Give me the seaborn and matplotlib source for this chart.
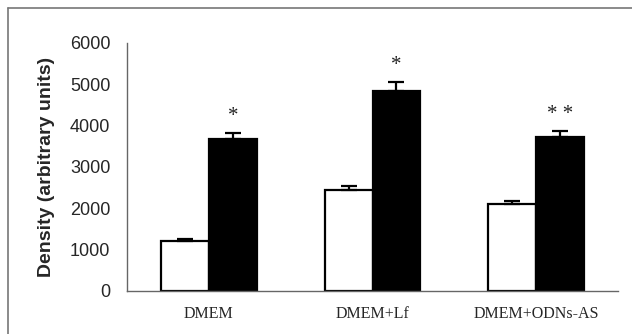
import numpy as np
import pandas as pd
import seaborn as sns
import matplotlib.pyplot as plt
from matplotlib.lines import Line2D

conditions = ["DMEM", "DMEM+Lf", "DMEM+ODNs-AS"]
control = [1210, 2440, 2100]
control_err = [50, 100, 60]
treated = [3670, 4840, 3730]
treated_err = [140, 200, 145]
marks = ["*", "*", "* *"]
yticks = [0, 1000, 2000, 3000, 4000, 5000, 6000]

df = pd.DataFrame({
    "condition": conditions * 2,
    "group": ["control"] * 3 + ["treated"] * 3,
    "density": control + treated,
})

sns.set_style("white")
plt.rcParams['font.family'] = ['Liberation Sans', 'DejaVu Sans']

fig = plt.figure(figsize=(6.32, 3.34), dpi=100)
ax = fig.add_axes([127 / 632, 1 - 290.7 / 334, (618 - 127) / 632, (290.7 - 42.7) / 334])

sns.barplot(data=df, x="condition", y="density", hue="group",
            palette={"control": "white", "treated": "black"},
            edgecolor="black", linewidth=1.6, width=0.585,
            errorbar=None, legend=False, ax=ax)

# seaborn draws hue bars group by group: first control, then treated
bars = [p for p in ax.patches if p.get_height() > 0]
ctrl_bars, trt_bars = bars[:3], bars[3:]
for grp, errs in ((ctrl_bars, control_err), (trt_bars, treated_err)):
    xs = [b.get_x() + b.get_width() / 2 for b in grp]
    hs = [b.get_height() for b in grp]
    ax.errorbar(xs, hs, yerr=[np.zeros(3), errs], fmt="none", ecolor="black",
                elinewidth=1.6, capsize=6, capthick=1.6, zorder=1)

for b, e, m in zip(trt_bars, treated_err, marks):
    ax.annotate(m, (b.get_x() + b.get_width() / 2, b.get_height() + e),
                xytext=(0, 5), textcoords="offset points", ha="center", va="bottom",
                fontsize=15, family="Liberation Serif", color="#222222")

ax.set_xlim(-0.5, 2.5)
ax.set_ylim(0, 6000)
ax.set_yticks(yticks)
ax.set_yticklabels([str(t) for t in yticks], fontsize=13)
ax.set_xticks([-0.5, 0.5, 1.5, 2.5])
ax.set_xticklabels([])
ax.set_xticks([0, 1, 2], minor=True)
ax.set_xticklabels(conditions, minor=True, fontsize=11.5, family="Liberation Serif")
ax.tick_params(axis="x", which="major", direction="out", length=4, color="#666666")
ax.tick_params(axis="x", which="minor", length=0, pad=11)
ax.tick_params(axis="y", direction="out", length=4, color="#666666", pad=8)
ax.set_xlabel("")
ax.set_ylabel("Density (arbitrary units)", fontsize=14, fontweight="bold", labelpad=11)

for s in ("top", "right"):
    ax.spines[s].set_visible(False)
for s in ("left", "bottom"):
    ax.spines[s].set_color("#666666")
    ax.spines[s].set_linewidth(1.0)

# frame lines of the original figure box
fig.add_artist(Line2D([8 / 632, 1], [1 - 8 / 334] * 2, color="#777777", lw=1.2))
fig.add_artist(Line2D([8 / 632] * 2, [0, 1 - 8 / 334], color="#777777", lw=1.2))

fig.savefig("out.png", dpi=100)
